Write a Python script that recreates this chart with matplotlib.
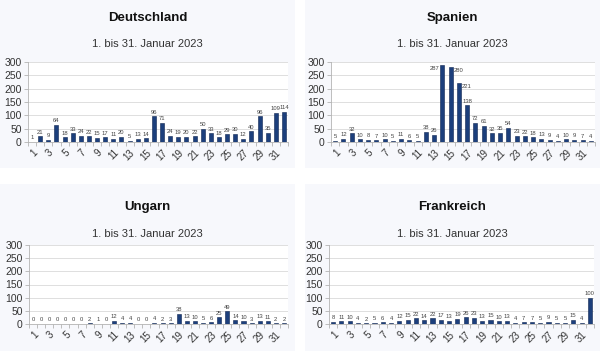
import matplotlib
matplotlib.use("Agg")
import matplotlib.pyplot as plt
from matplotlib.patches import Rectangle
import numpy as np

plt.rcParams['font.family'] = ['Liberation Sans', 'DejaVu Sans']

days = list(range(1, 33))
tick_labels = [str(d) if d % 2 == 1 else "" for d in days]
subtitle = "1. bis 31. Januar 2023"

deutschland = [1, 21, 9, 64, 18, 33, 24, 22, 15, 17, 11, 20, 5, 13, 14, 96,
               71, 24, 19, 20, 22, 50, 33, 18, 29, 30, 12, 40, 96, 35, 109, 114]
spanien = [5, 12, 32, 10, 8, 7, 10, 5, 11, 6, 5, 38, 26, 287, 280, 221,
           138, 72, 61, 32, 35, 54, 23, 22, 18, 13, 9, 4, 10, 9, 7, 4]
ungarn = [0, 0, 0, 0, 0, 0, 0, 2, 1, 0, 12, 4, 4, 0, 0, 4,
          2, 3, 38, 13, 10, 5, 6, 25, 49, 14, 10, 3, 13, 11, 2, 2]
frankreich = [8, 11, 10, 4, 2, 5, 6, 4, 12, 15, 22, 14, 22, 17, 13, 19,
              26, 23, 13, 15, 10, 13, 4, 7, 7, 5, 9, 5, 5, 15, 4, 100]

panels = [
    ("Deutschland", deutschland),
    ("Spanien", spanien),
    ("Ungarn", ungarn),
    ("Frankreich", frankreich),
]

W, H = 600, 351
fig = plt.figure(figsize=(W / 100, H / 100), dpi=100)
fig.patch.set_facecolor("white")

boxes = [(0, 0, 295, 168), (305, 0, 600, 168), (0, 184, 295, 351), (305, 184, 600, 351)]
plots = [(28, 62, 288, 142), (331, 62, 595, 142), (29, 245, 288, 324), (329, 245, 594, 324)]
title_y = [18, 18, 207, 207]
sub_y = [44, 44, 234, 234]

bg = "#f7f8fc"
bar_color = "#1c3f7c"

for i, (name, vals) in enumerate(panels):
    x0, y0, x1, y1 = boxes[i]
    fig.patches.append(Rectangle((x0 / W, 1 - y1 / H), (x1 - x0) / W, (y1 - y0) / H,
                                 transform=fig.transFigure, facecolor=bg, edgecolor="none", zorder=-5))
    cx = (x0 + x1) / 2 / W
    fig.text(cx, 1 - title_y[i] / H, name, ha="center", va="center",
             fontsize=9.5, fontweight="bold", color="#111111")
    fig.text(cx, 1 - sub_y[i] / H, subtitle, ha="center", va="center",
             fontsize=8, color="#333333")
    l, t, r, b = plots[i]
    ax = fig.add_axes([l / W, 1 - b / H, (r - l) / W, (b - t) / H], zorder=2)
    ax.set_facecolor("white")
    xs = np.arange(len(days))
    ax.bar(xs, vals, width=0.5, color=bar_color, edgecolor="#0e2550", linewidth=0.4, zorder=3)
    for xv, v in zip(xs, vals):
        if v > 200 and xv > 0 and vals[xv - 1] < v and xv + 1 < len(vals) and vals[xv + 1] > 200:
            # label placed to the left of a tall bar (as in reference)
            ax.text(xv - 0.35, v - 2, str(v), ha="right", va="top", fontsize=4.2, color="#444444", zorder=4)
        elif v > 200:
            ax.text(xv + 0.35, v - 2, str(v), ha="left", va="top", fontsize=4.2, color="#444444", zorder=4)
        else:
            ax.text(xv, v + 6, str(v), ha="center", va="bottom", fontsize=4.2, color="#444444", zorder=4)
    ax.set_xlim(-0.5, len(days) - 0.5)
    ax.set_ylim(0, 300)
    ax.set_yticks(range(0, 301, 50))
    ax.grid(axis="y", color="#d9d9d9", linewidth=0.6, zorder=0)
    ax.set_xticks(xs)
    ax.set_xticklabels(tick_labels, rotation=45, ha="right", rotation_mode="anchor")
    ax.set_xticks(np.arange(-0.5, len(days), 1), minor=True)
    ax.tick_params(axis="x", which="major", length=0, labelsize=7, colors="#333333", pad=4)
    ax.tick_params(axis="x", which="minor", length=3, color="#b3b3b3", width=0.6)
    ax.tick_params(axis="y", length=3, color="#b3b3b3", width=0.6, labelsize=7.5, colors="#333333", pad=1.5)
    for s in ["top", "right"]:
        ax.spines[s].set_visible(False)
    for s in ["left", "bottom"]:
        ax.spines[s].set_color("#b3b3b3")
        ax.spines[s].set_linewidth(0.6)

fig.savefig("out.png", dpi=100, facecolor=fig.get_facecolor())
